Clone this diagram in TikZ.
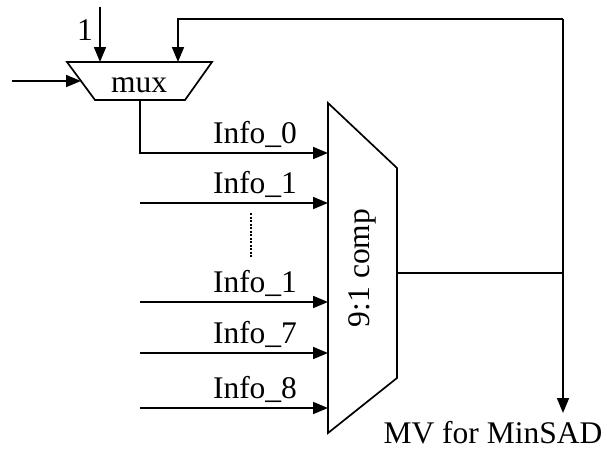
\documentclass[tikz,border=0pt]{standalone}
\usepackage{fontspec}
\setmainfont{Liberation Serif}
\usetikzlibrary{arrows.meta}
\begin{document}
\begin{tikzpicture}[x=1pt,y=-1pt,
  wire/.style={line width=1.7pt},
  arr/.style={wire,-{Triangle[length=15pt,width=12pt]}},
  blockline/.style={line width=1.7pt},
  lbl/.style={font=\fontsize{31.5}{36}\selectfont,inner sep=0pt,anchor=base}]
\useasboundingbox (0,0) rectangle (607,450);
% mux
\coordinate (m1) at (67,62); \coordinate (m2) at (212,62);
\coordinate (m3) at (185,100); \coordinate (m4) at (95,100);
\draw[blockline] (m1) -- (m2) -- (m3) -- (m4) -- cycle;
\node[lbl] (muxt) at (139,92) {mux};
% comp
\coordinate (c1) at (328,103); \coordinate (c2) at (397,168);
\coordinate (c3) at (397,378); \coordinate (c4) at (328,433);
\draw[blockline] (c1) -- (c2) -- (c3) -- (c4) -- cycle;
\node[lbl,anchor=center,rotate=90] (compt) at (362,268) {9:1 comp};
% inputs to mux
\coordinate (one0) at (100,7); \coordinate (one1) at (100,62);
\draw[arr] (one0) -- (one1);
\node[lbl] (onel) at (85,40) {1};
\coordinate (lin0) at (12,81); \coordinate (lin1) at (81,81);
\draw[arr] (lin0) -- (lin1);
% output and feedback
\coordinate (co) at (397,273);
\coordinate (j) at (563,273);
\coordinate (top) at (563,19);
\coordinate (fb) at (178,62);
\coordinate (out) at (563,413);
\draw[wire] (co) -- (j);
\draw[arr] (out |- top) -- (top) -| (fb);
\draw[arr] (top) -- (out);
\node[lbl] (mv) at (493,443) {MV for MinSAD};
% mux output
\coordinate (mo) at (140,100);
\draw[arr] (mo) |- (328,153);
\node[lbl] (i0) at (255,143) {Info\_0};
% other inputs
\foreach \yy/\tt/\nn in {203/Info\_1/i1,302/Info\_1/i2,353/Info\_7/i7,408/Info\_8/i8}{
  \coordinate (s\nn) at (140,\yy);
  \draw[arr] (s\nn) -- (328,\yy);
  \node[lbl] (\nn) at (255,\yy-10) {\tt};
}
\coordinate (d0) at (251,213); \coordinate (d1) at (251,257);
\draw[line width=1.3pt,dash pattern=on 2pt off 1.5pt] (d0) -- (d1);
\end{tikzpicture}
\end{document}
